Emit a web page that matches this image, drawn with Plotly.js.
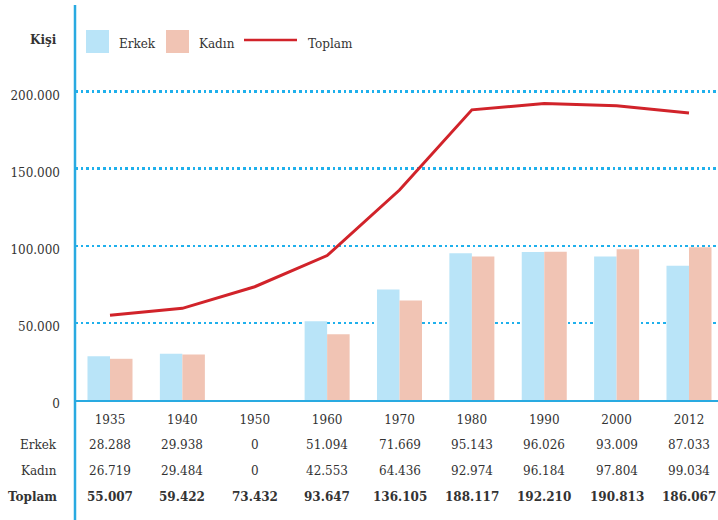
<!DOCTYPE html>
<html>
<head>
<meta charset="utf-8">
<script src="https://cdn.plot.ly/plotly-3.0.1.min.js"></script>
<style>html,body{margin:0;padding:0;background:#fff;}#chart{width:718px;height:520px;}</style>
</head>
<body>
<div id="chart"></div>
<script>
// ---- data ----
var years = ['1935', '1940', '1950', '1960', '1970', '1980', '1990', '2000', '2012'];
var erkek = [28288, 29938, 0, 51094, 71669, 95143, 96026, 93009, 87033];
var kadin = [26719, 29484, 0, 42553, 64436, 92974, 96184, 97804, 99034];
var toplam = [55007, 59422, 73432, 93647, 136105, 188117, 192210, 190813, 186067];
var seriesNames = ['Erkek', 'Kadın', 'Toplam'];
var yTicks = [0, 50000, 100000, 150000, 200000];
var yUnit = 'Kişi';

// ---- styling ----
var cErkek = '#b9e4f8', cKadin = '#f1c4b4', cLine = '#d1232a';
var cAxis = '#29aae1', cGrid = '#1fb0ec', cText = '#333333';
var FONT = 'DejaVu Serif, Liberation Serif, serif';

var L = 75, W = 643, T = 20, B = 400, H = B - T;
function px(x) { return (x - L) / W; }
function py(y) { return (B - y) / H; }
function fmt(n) { return String(n).replace(/\B(?=(\d{3})+(?!\d))/g, '.'); }

var traces = [
  {type: 'bar', x: years, y: erkek, name: seriesNames[0], marker: {color: cErkek, line: {width: 0}}, showlegend: false, hoverinfo: 'skip'},
  {type: 'bar', x: years, y: kadin, name: seriesNames[1], marker: {color: cKadin, line: {width: 0}}, showlegend: false, hoverinfo: 'skip'},
  {type: 'scatter', mode: 'lines', x: years, y: toplam, name: seriesNames[2], line: {color: cLine, width: 3}, showlegend: false, hoverinfo: 'skip'}
];

var annotations = [];
var shapes = [];

// y axis line extending through the table
shapes.push({type: 'line', xref: 'paper', yref: 'paper', x0: 0, x1: 0, y0: py(520), y1: py(5), line: {color: cAxis, width: 2.5}});

// unit label
annotations.push({xref: 'paper', yref: 'paper', x: px(59), y: py(40), xanchor: 'right', yanchor: 'middle', showarrow: false,
  text: '<b>' + yUnit + '</b>', font: {family: FONT, size: 12, color: cText}});

// manual legend
shapes.push({type: 'rect', xref: 'paper', yref: 'paper', x0: px(86), x1: px(109), y0: py(53), y1: py(30), fillcolor: cErkek, line: {width: 0}});
shapes.push({type: 'rect', xref: 'paper', yref: 'paper', x0: px(166), x1: px(189), y0: py(53), y1: py(30), fillcolor: cKadin, line: {width: 0}});
shapes.push({type: 'line', xref: 'paper', yref: 'paper', x0: px(244), x1: px(297), y0: py(40), y1: py(40), line: {color: cLine, width: 2.5}});
var legX = [117, 197, 306];
for (var i = 0; i < 3; i++) {
  annotations.push({xref: 'paper', yref: 'paper', x: px(legX[i]), y: py(44), xanchor: 'left', yanchor: 'middle', showarrow: false,
    text: seriesNames[i], font: {family: FONT, size: 12, color: cText}});
}

// table rows
var rows = [
  {label: seriesNames[0], vals: erkek, y: 445, bold: false},
  {label: seriesNames[1], vals: kadin, y: 471, bold: false},
  {label: seriesNames[2], vals: toplam, y: 497, bold: true}
];
rows.forEach(function (r) {
  var w = function (s) { return r.bold ? '<b>' + s + '</b>' : s; };
  annotations.push({xref: 'paper', yref: 'paper', x: px(59), y: py(r.y), xanchor: 'right', yanchor: 'middle', showarrow: false,
    text: w(r.label), font: {family: FONT, size: 12, color: cText}});
  r.vals.forEach(function (v, j) {
    annotations.push({xref: 'x', yref: 'paper', x: j, y: py(r.y), xanchor: 'center', yanchor: 'middle', showarrow: false,
      text: w(fmt(v)), font: {family: FONT, size: 12, color: cText}});
  });
});

var layout = {
  width: 718, height: 520,
  margin: {l: L, r: 718 - L - W, t: T, b: 520 - B, pad: 0},
  paper_bgcolor: '#ffffff', plot_bgcolor: '#ffffff',
  font: {family: FONT, size: 12, color: cText},
  separators: ',.',
  barmode: 'group', bargap: 0.378, bargroupgap: 0,
  showlegend: false,
  xaxis: {
    type: 'category', range: [-0.4836, 8.4007], fixedrange: true,
    showline: true, linecolor: cAxis, linewidth: 2, showgrid: false, zeroline: false,
    ticks: '', ticklabelstandoff: 8, tickfont: {family: FONT, size: 12, color: cText}
  },
  yaxis: {
    range: [0, 246350], fixedrange: true,
    tickmode: 'array', tickvals: yTicks, ticktext: yTicks.map(fmt),
    showline: false, zeroline: false,
    showgrid: true, gridcolor: cGrid, gridwidth: 2.5, griddash: '2.5px,3.1px',
    ticks: '', ticklabelstandoff: 14, ticklabelshift: 4, tickfont: {family: FONT, size: 12, color: cText}
  },
  shapes: shapes,
  annotations: annotations
};

Plotly.newPlot('chart', traces, layout, {displayModeBar: false, staticPlot: true});
</script>
</body>
</html>
